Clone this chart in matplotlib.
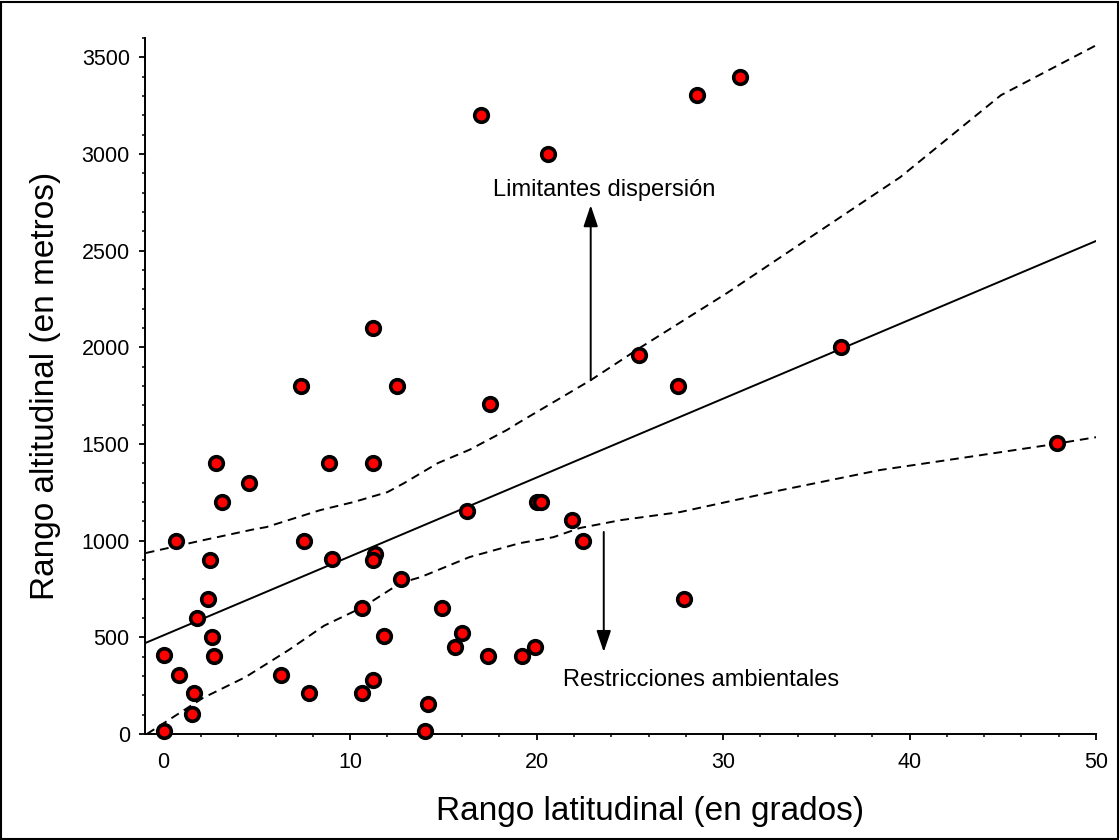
import matplotlib
matplotlib.use("Agg")
from matplotlib import pyplot as plt
from matplotlib.patches import Rectangle
from matplotlib.ticker import MultipleLocator

plt.rcParams['font.family'] = ['Liberation Sans', 'DejaVu Sans']

# Species data: latitudinal range (degrees) vs altitudinal range (m)
lat_range = [0.0, 0.0, 0.8, 0.65, 1.6, 1.5, 1.8, 2.4, 2.6, 2.7, 2.5, 2.8, 3.15, 4.6,
             7.5, 6.3, 7.8, 7.35, 8.85, 11.25, 9.05, 11.35, 11.2, 12.7, 10.65, 11.8,
             11.2, 10.65, 14.2, 14.0, 14.9, 16.0, 15.6, 17.4, 19.2, 19.9, 16.25, 20.0,
             20.25, 21.9, 22.5, 11.2, 12.5, 17.5, 17.0, 20.6, 28.6, 30.9, 27.6, 25.5,
             36.3, 47.9, 27.9]
alt_range = [15, 410, 305, 1000, 210, 105, 600, 700, 500, 405, 900, 1400, 1200, 1300,
             1000, 305, 210, 1800, 1400, 1400, 905, 930, 900, 800, 650, 505,
             280, 210, 155, 15, 650, 520, 450, 405, 405, 450, 1155, 1200,
             1200, 1105, 1000, 2100, 1800, 1705, 3200, 3000, 3305, 3400, 1800, 1960,
             2000, 1505, 700]

# regression line and confidence bands
fit_x = [-1, 50]
fit_y = [470, 2550]
upper_x = [-0.96, 2.0, 4.9, 5.5, 8.4, 10.2, 12.0, 12.9, 14.7, 16.4, 18.4, 19.0,
           22.9, 25.6, 30.2, 35.0, 39.5, 44.9, 50.0]
upper_y = [936, 1000, 1060, 1070, 1158, 1200, 1251, 1298, 1401, 1470, 1572, 1608,
           1830, 2001, 2280, 2590, 2880, 3304, 3562]
lower_x = [-0.9, 2.1, 4.4, 6.7, 8.6, 10.7, 12.7, 13.8, 16.4, 19.1, 20.9, 22.3,
           24.5, 27.7, 33.1, 38.4, 43.8, 47.4, 50.0]
lower_y = [0, 186, 295, 434, 560, 657, 781, 812, 915, 987, 1018, 1065,
           1106, 1148, 1261, 1365, 1442, 1494, 1535]

fig = plt.figure(figsize=(11.2, 8.4), dpi=100)
ax = fig.add_axes([0.1295, 0.1262, 0.8491, 0.8286])

ax.plot(fit_x, fit_y, color="black", lw=1.4)
ax.plot(upper_x, upper_y, color="black", lw=1.4, dashes=(4.5, 3))
ax.plot(lower_x, lower_y, color="black", lw=1.4, dashes=(4.5, 3))
ax.plot(lat_range, alt_range, "o", color="red", markeredgecolor="black",
        markersize=9.8, markeredgewidth=2.6, clip_on=False, zorder=5)

# annotations
arrow = dict(arrowstyle="-|>,head_length=0.65,head_width=0.22", color="black",
             lw=1.4, mutation_scale=20, shrinkA=0, shrinkB=0)
ax.annotate("", xy=(22.9, 2735), xytext=(22.9, 1830), arrowprops=arrow)
ax.annotate("", xy=(23.6, 424), xytext=(23.6, 1045), arrowprops=arrow)
ax.text(23.6, 2813, "Limitantes dispersión", ha="center", va="center", fontsize=17)
ax.text(28.8, 280, "Restricciones ambientales", ha="center", va="center", fontsize=17)

ax.set_xlim(-1, 50)
ax.set_ylim(0, 3600)
ax.set_xticks([0, 10, 20, 30, 40, 50])
ax.set_yticks([0, 500, 1000, 1500, 2000, 2500, 3000, 3500])
ax.xaxis.set_minor_locator(MultipleLocator(2))
ax.yaxis.set_minor_locator(MultipleLocator(100))
ax.tick_params(which="major", length=4, width=1.3, labelsize=15.5)
ax.tick_params(which="minor", length=2.2, width=1.1)
ax.tick_params(axis="y", which="major", pad=7)
ax.tick_params(axis="x", which="major", pad=9)
ax.spines["top"].set_visible(False)
ax.spines["right"].set_visible(False)
ax.spines["left"].set_linewidth(1.4)
ax.spines["bottom"].set_linewidth(1.4)

ax.set_xlabel("Rango latitudinal (en grados)", fontsize=24)
ax.set_ylabel("Rango altitudinal (en metros)", fontsize=24)
ax.xaxis.set_label_coords(0.531, -0.089)
ax.yaxis.set_label_coords(-0.088, 0.5)

# frame around the whole figure
fig.patches.append(Rectangle((0.001, 0.001), 0.997, 0.997, transform=fig.transFigure,
                             fill=False, edgecolor="black", lw=1.5))

plt.savefig("out.png", dpi=100)
